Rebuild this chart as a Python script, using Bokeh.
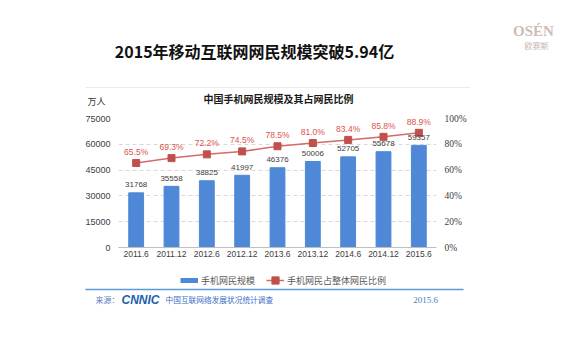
from bokeh.plotting import figure
from bokeh.layouts import column
from bokeh.models import (FactorRange, Range1d, LinearAxis, FixedTicker, Label, LabelSet,
                          Legend, LegendItem, ColumnDataSource, PrintfTickFormatter)
from bokeh.core.properties import value
from bokeh.embed import file_html
from bokeh.resources import INLINE

# ---- data ----
periods = ["2011.6", "2011.12", "2012.6", "2012.12", "2013.6",
           "2013.12", "2014.6", "2014.12", "2015.6"]
users = [31768, 35558, 38825, 41997, 46376, 50006, 52705, 55678, 59357]
share = [65.5, 69.3, 72.2, 74.5, 78.5, 81.0, 83.4, 85.8, 88.9]
left_ticks = [0, 15000, 30000, 45000, 60000, 75000]
right_ticks = [0, 20, 40, 60, 80, 100]
bar_name = "手机网民规模"
line_name = "手机网民占整体网民比例"

src = ColumnDataSource(dict(
    period=periods, users=users, share=share,
    users_txt=[str(u) for u in users],
    share_txt=["%.1f%%" % s for s in share],
))

CJK = "Noto Sans CJK SC"
W = 562
BAR = "#4f88d6"
RED = "#c0504d"
NAN = float("nan")


def deco(h, y_top):
    """A bare figure whose frame covers it all, in page pixel coordinates."""
    f = figure(width=W, height=h, x_range=Range1d(0, W), y_range=Range1d(y_top + h, y_top),
               output_backend="svg", toolbar_location=None, min_border=0,
               x_axis_location=None, y_axis_location=None, frame_align=False,
               outline_line_color=None, background_fill_color="white",
               border_fill_color="white")
    f.grid.visible = False
    return f


def lab(f, x, y, t, size, color, font=CJK, style="normal", align="center"):
    f.add_layout(Label(x=x, y=y, text=t, text_font_size=size, text_color=color,
                       text_font=font, text_font_style=style, text_align=align,
                       text_baseline="middle"))


# ---------- top strip: titles ----------
top = deco(110, 0)
lab(top, 254, 50, "2015年移动互联网网民规模突破5.94亿", "16px", "#111111", style="bold")
lab(top, 533, 30, "OSÉN", "15px", "#cbbdb5", font="Liberation Serif", style="bold")
lab(top, 536, 45, "欧赛斯", "8px", "#c4b5ad")
top.segment(x0=[85], y0=[87], x1=[470], y1=[87], line_color="#ebebeb", line_width=1)
lab(top, 278, 98, "中国手机网民规模及其占网民比例", "10px", "#1a1a1a", style="bold")
lab(top, 96, 101, "万人", "9px", "#333333")

# ---------- main chart ----------
p = figure(width=W, height=157,
           x_range=FactorRange(factors=periods),
           y_range=Range1d(0, 75000),
           output_backend="svg", toolbar_location=None, frame_align=False,
           min_border_left=118, min_border_right=W - 436,
           min_border_top=8, min_border_bottom=20,
           outline_line_color=None, background_fill_color="white",
           border_fill_color="white")
p.extra_y_ranges = {"pct": Range1d(0, 100)}

p.yaxis.ticker = FixedTicker(ticks=left_ticks)
p.yaxis.axis_line_color = None
p.yaxis.major_tick_line_color = None
p.yaxis.major_tick_out = 0
p.yaxis.major_tick_in = 0
p.yaxis.minor_tick_line_color = None
p.yaxis.major_label_text_font_size = "9px"
p.yaxis.major_label_text_font = "Liberation Sans"
p.yaxis.major_label_text_color = "#404040"
p.yaxis.major_label_standoff = 8

ra = LinearAxis(y_range_name="pct", ticker=FixedTicker(ticks=right_ticks),
                formatter=PrintfTickFormatter(format="%d%%"))
ra.axis_line_color = None
ra.major_tick_line_color = None
ra.major_tick_out = 0
ra.major_tick_in = 0
ra.minor_tick_line_color = None
ra.major_label_text_font_size = "9.5px"
ra.major_label_text_font = "Liberation Serif"
ra.major_label_text_color = "#404040"
ra.major_label_standoff = 8
p.add_layout(ra, "right")

p.xaxis.axis_line_color = "#bfbfbf"
p.xaxis.major_tick_line_color = None
p.xaxis.major_tick_out = 0
p.xaxis.major_tick_in = 0
p.xaxis.major_label_text_font_size = "8.5px"
p.xaxis.major_label_text_font = "Liberation Sans"
p.xaxis.major_label_text_color = "#404040"
p.xaxis.major_label_standoff = 3

p.xgrid.visible = False
p.ygrid.ticker = FixedTicker(ticks=left_ticks)
p.ygrid.grid_line_color = "#d9d9d9"
p.ygrid.grid_line_dash = "4 3"

p.vbar(x="period", top="users", width=0.42, source=src,
       fill_color=BAR, line_color=BAR)
p.line(x="period", y="share", y_range_name="pct", source=src,
       line_color="#d46a6a", line_width=1.5)
p.scatter(x="period", y="share", y_range_name="pct", source=src,
          marker="square", size=7, fill_color=RED, line_color=RED)

p.add_layout(LabelSet(x="period", y="users", text="users_txt", source=src,
                      y_offset=8, text_align="center", text_baseline="middle",
                      text_font_size="8px", text_font=value("Liberation Sans"),
                      text_color="#404040"))
p.add_layout(LabelSet(x="period", y="share", text="share_txt", source=src,
                      y_range_name="pct", y_offset=11, text_align="center",
                      text_baseline="middle", text_font_size="8.5px",
                      text_font=value("Liberation Sans"), text_color="#d9534f"))

# ---------- bottom strip: legend and source ----------
bot = deco(73, 267)
kb = bot.line(x=[NAN], y=[NAN], line_color=BAR, line_width=5)
kl = bot.line(x=[NAN], y=[NAN], line_color="#d46a6a", line_width=1.5)
km = bot.scatter(x=[NAN], y=[NAN], marker="square", fill_color=RED, line_color=RED)
lg = Legend(items=[LegendItem(label=bar_name, renderers=[kb]),
                   LegendItem(label=line_name, renderers=[kl, km])],
            location=(180, 340 - 289), orientation="horizontal",
            glyph_width=18, glyph_height=18, label_height=18, label_standoff=3,
            spacing=11, padding=0, margin=0, border_line_color=None,
            background_fill_alpha=0, label_text_font_size="9px",
            label_text_font=CJK, label_text_color="#595959")
bot.add_layout(lg)
bot.segment(x0=[85], y0=[289], x1=[463], y1=[289], line_color="#5b9bd5", line_width=1.5)
lab(bot, 95, 299, "来源：", "8px", "#5a7fc0", align="left")
lab(bot, 140, 299, "CNNIC", "12px", "#1b5fae", font="Liberation Sans", style="bold italic")
lab(bot, 165, 299, "中国互联网络发展状况统计调查", "7.7px", "#3b6fc4", align="left")
lab(bot, 425, 299, "2015.6", "9px", "#4a7cc4", font="Liberation Serif")

layout = column(top, p, bot, spacing=0)
open("out.html", "w").write(file_html(layout, INLINE))
